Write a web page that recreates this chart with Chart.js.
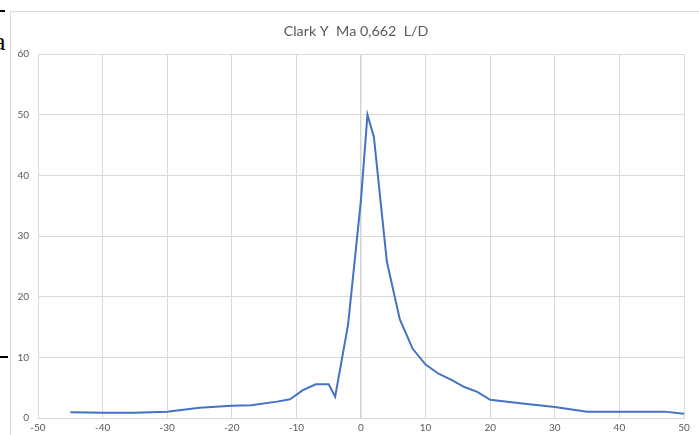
<!DOCTYPE html>
<html>
<head>
<meta charset="utf-8">
<script src="https://cdn.jsdelivr.net/npm/chart.js@4"></script>
<style>
  html, body { margin: 0; padding: 0; background: #fff; }
  body { width: 699px; height: 435px; overflow: hidden; position: relative; }
  #frame { position: absolute; left: 10px; top: 11px; width: 720px; height: 440px; border: 1px solid #d9d9d9; box-sizing: border-box; }
  #wrap { position: absolute; left: 0; top: 0; width: 699px; height: 435px; }
  .mark { position: absolute; background: #000; height: 2px; }
  #letter { position: absolute; left: -6px; top: 27px; font: 26px "Liberation Serif", serif; color: #000; }
</style>
</head>
<body>
<div class="mark" style="left:0; top:10px; width:5px;"></div>
<div id="letter">a</div>
<div class="mark" style="left:0; top:356px; width:8px;"></div>
<div id="frame"></div>
<div id="wrap"><canvas id="ldChart" width="699" height="435"></canvas></div>
<script>
// angle of attack, degrees
var alpha = [-45, -40, -35, -30, -25, -20, -17, -13, -11, -9, -7, -5, -4, -2, 0, 1, 2, 4, 6, 8, 10, 12, 14, 16, 18, 20, 25, 30, 35, 40, 47, 50];
// lift / drag
var ld = [0.95, 0.85, 0.85, 1.05, 1.7, 2.0, 2.1, 2.7, 3.1, 4.6, 5.55, 5.55, 3.5, 15.4, 36, 50, 46.3, 25.8, 16.3, 11.4, 8.8, 7.3, 6.3, 5.1, 4.3, 3.0, 2.4, 1.8, 1.05, 1.05, 1.05, 0.7];
var chartTitle = "Clark Y  Ma 0,662  L/D";

var points = alpha.map(function (a, i) { return { x: a, y: ld[i] }; });

var titlePlugin = {
    id: "excelTitle",
    afterDraw: function (chart) {
        var c = chart.ctx;
        c.save();
        c.font = "14.3px Lato, 'Liberation Sans', sans-serif";
        c.fillStyle = "#595959";
        c.textAlign = "center";
        c.textBaseline = "middle";
        c.fillText(chartTitle, 356, 31);
        c.restore();
    }
};

var ctx = document.getElementById("ldChart").getContext("2d");
var ldChart = new Chart(ctx, {
    type: "scatter",
    data: {
        datasets: [{
            data: points,
            showLine: true,
            borderColor: "#4472C4",
            borderWidth: 2,
            pointRadius: 0,
            fill: false,
            tension: 0
        }]
    },
    options: {
        responsive: false,
        animation: false,
        layout: { padding: { top: 54, right: 15, left: 0, bottom: 0 } },
        plugins: {
            legend: { display: false },
            title: { display: false },
            tooltip: { enabled: false }
        },
        scales: {
            x: {
                type: "linear",
                min: -50,
                max: 50,
                afterFit: function (s) { s.height = 17; },
                ticks: { stepSize: 10, padding: 4, color: "#595959", font: { size: 10, family: "Lato, 'Liberation Sans', sans-serif" } },
                grid: {
                    drawTicks: false,
                    color: function (c) { return c.tick && c.tick.value === 0 ? "#d4d4d4" : "#d9d9d9"; },
                    lineWidth: function (c) { return c.tick && c.tick.value === 0 ? 1.5 : 1; }
                },
                border: { color: "#d9d9d9" }
            },
            y: {
                min: 0,
                max: 60,
                afterFit: function (s) { s.width = 38; },
                ticks: { stepSize: 10, padding: 9, color: "#595959", font: { size: 10, family: "Lato, 'Liberation Sans', sans-serif" } },
                grid: { drawTicks: false, color: "#d9d9d9" },
                border: { color: "#d9d9d9" }
            }
        }
    },
    plugins: [titlePlugin]
});
</script>
</body>
</html>
